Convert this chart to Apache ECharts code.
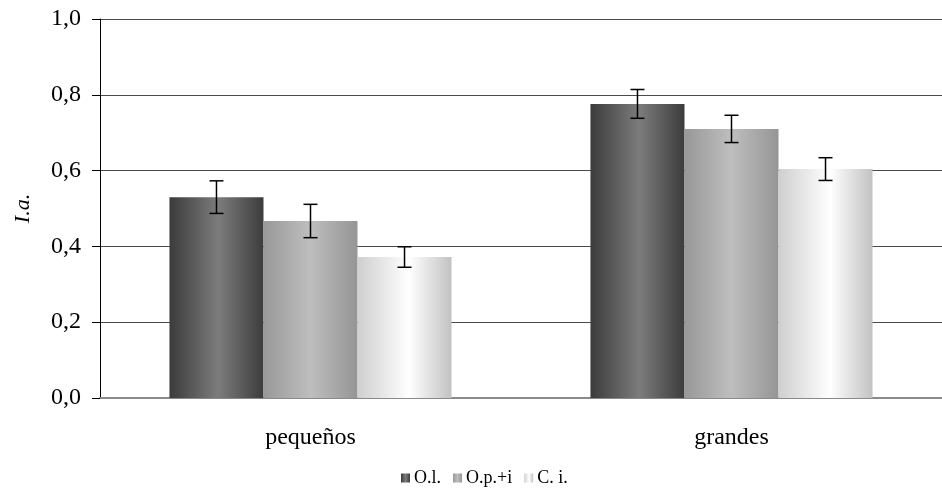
<!DOCTYPE html>
<html>
<head>
<meta charset="utf-8">
<script src="https://cdn.jsdelivr.net/npm/echarts@6/dist/echarts.min.js"></script>
<style>
  html, body { margin: 0; padding: 0; background: #fff; }
  #chart { width: 942px; height: 492px; }
</style>
</head>
<body>
<div id="chart"></div>
<script>
// Group labels along the x axis
const categories = ['pequeños', 'grandes'];
// Series names shown in the legend
const seriesNames = ['O.l.', 'O.p.+i', 'C. i.'];
// Mean index per series, one value per group
const valuesOL = [0.530, 0.776];
const valuesOPI = [0.467, 0.710];
const valuesCI = [0.372, 0.604];
// Half-length of each error bar
const errOL = [0.043, 0.038];
const errOPI = [0.044, 0.036];
const errCI = [0.027, 0.030];
// Y tick labels use a decimal comma
const yTicks = ['0,0', '0,2', '0,4', '0,6', '0,8', '1,0'];

const seriesValues = [valuesOL, valuesOPI, valuesCI];
const seriesErrors = [errOL, errOPI, errCI];

const FONT = '"Liberation Serif", "DejaVu Serif", serif';
const CAT_GAP = 0.33;

function cylGradient(edgeL, mid, edgeR, midPos) {
  return new echarts.graphic.LinearGradient(0, 0, 1, 0, [
    { offset: 0, color: edgeL },
    { offset: midPos, color: mid },
    { offset: 1, color: edgeR }
  ]);
}

const fills = [
  cylGradient('#3b3b3b', '#7c7c7c', '#3c3c3c', 0.52),
  cylGradient('#989898', '#bebebe', '#959595', 0.5),
  cylGradient('#cfcfcf', '#ffffff', '#c2c2c2', 0.55)
];

const barSeries = seriesNames.map((name, i) => ({
  name: name,
  type: 'bar',
  data: seriesValues[i],
  barGap: '0%',
  barCategoryGap: (CAT_GAP * 100) + '%',
  itemStyle: { color: fills[i] },
  z: 2
}));

// Error bars drawn over the bars; each item is [groupIndex, seriesIndex, low, high]
const errData = [];
seriesValues.forEach((vals, s) => {
  vals.forEach((v, c) => {
    errData.push([c, s, v - seriesErrors[s][c], v + seriesErrors[s][c]]);
  });
});

const errorSeries = {
  type: 'custom',
  name: 'error',
  data: errData,
  encode: { x: 0, y: [2, 3] },
  z: 5,
  renderItem: function (params, api) {
    const c = api.value(0);
    const s = api.value(1);
    const lowPt = api.coord([c, api.value(2)]);
    const highPt = api.coord([c, api.value(3)]);
    const band = api.size([1, 0])[0];
    const bw = band * (1 - CAT_GAP) / seriesNames.length;
    const x = lowPt[0] + (s - (seriesNames.length - 1) / 2) * bw;
    const cap = 7;
    const style = { stroke: '#000', lineWidth: 1.5, fill: null };
    return {
      type: 'group',
      children: [
        { type: 'line', shape: { x1: x, y1: lowPt[1], x2: x, y2: highPt[1] }, style: style },
        { type: 'line', shape: { x1: x - cap, y1: lowPt[1], x2: x + cap, y2: lowPt[1] }, style: style },
        { type: 'line', shape: { x1: x - cap, y1: highPt[1], x2: x + cap, y2: highPt[1] }, style: style }
      ]
    };
  }
};

const chart = echarts.init(document.getElementById('chart'), null, { renderer: 'canvas' });
chart.setOption({
  animation: false,
  backgroundColor: '#fff',
  grid: { left: 100, right: -6, top: 19, bottom: 94, containLabel: false },
  legend: {
    data: seriesNames,
    bottom: 0,
    left: 396,
    icon: 'rect',
    itemWidth: 9,
    itemHeight: 9,
    itemGap: 12,
    textStyle: { fontFamily: FONT, fontSize: 18, color: '#000', padding: [0, 0, 0, -1] }
  },
  xAxis: {
    type: 'category',
    data: categories,
    axisLine: { lineStyle: { color: '#8a8a8a', width: 2 } },
    axisTick: { show: false },
    axisLabel: { fontFamily: FONT, fontSize: 24, color: '#000', margin: 28 }
  },
  yAxis: {
    type: 'value',
    min: 0,
    max: 1,
    interval: 0.2,
    name: 'I.a.',
    nameLocation: 'middle',
    nameGap: 66,
    nameTextStyle: { fontFamily: FONT, fontSize: 22, fontStyle: 'italic', color: '#000' },
    axisLine: { show: true, lineStyle: { color: '#000', width: 1 } },
    axisTick: { show: true, length: 8, lineStyle: { color: '#000' } },
    axisLabel: {
      fontFamily: FONT, fontSize: 24, color: '#000', margin: 19,
      formatter: function (v) { return yTicks[Math.round(v / 0.2)]; }
    },
    splitLine: { show: true, lineStyle: { color: '#4a4a4a', width: 1 } }
  },
  series: barSeries.concat([errorSeries])
});
</script>
</body>
</html>
